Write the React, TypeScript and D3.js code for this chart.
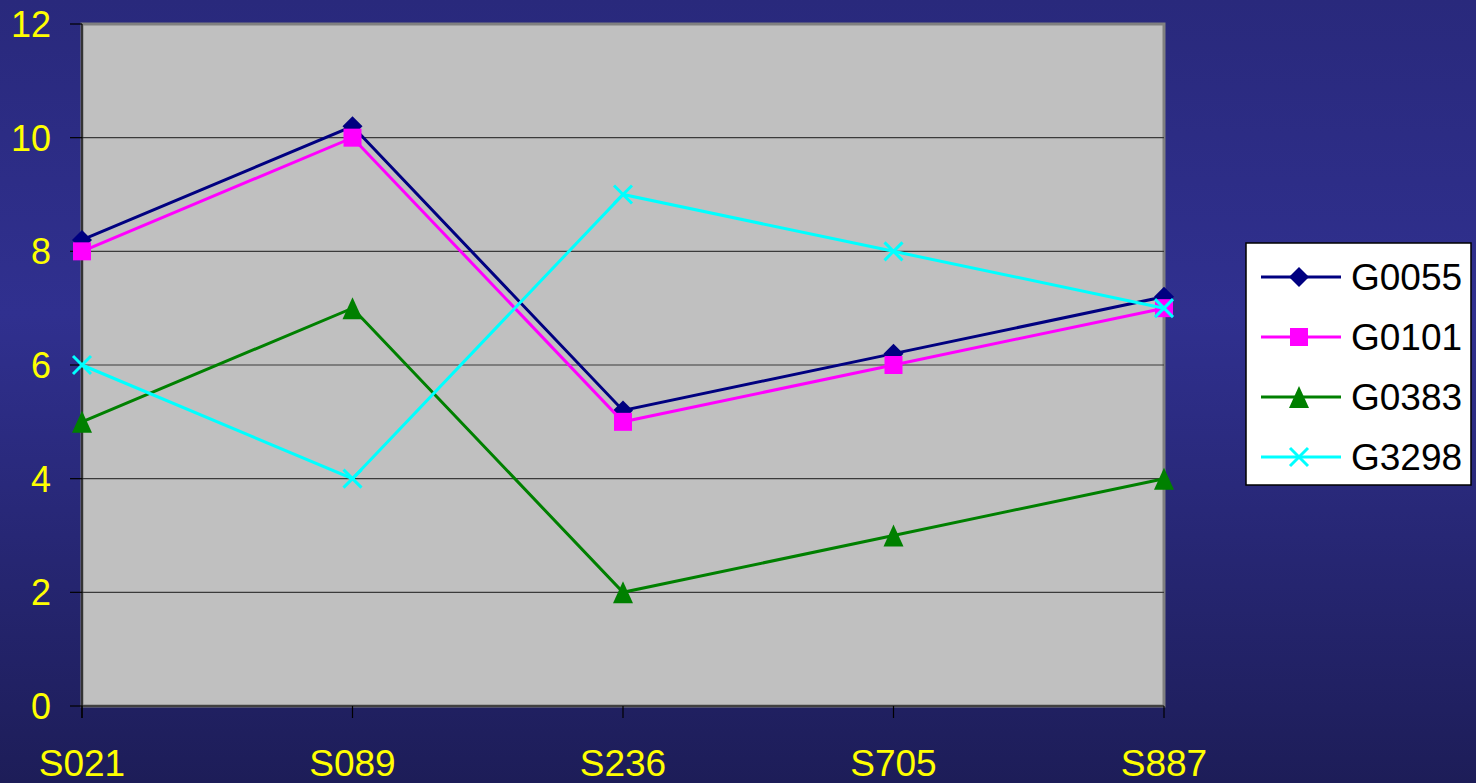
import React from "react";
import * as d3 from "d3";

const categories = ["S021", "S089", "S236", "S705", "S887"];
const seriesNames = ["G0055", "G0101", "G0383", "G3298"];
const g0055 = [8.2, 10.2, 5.2, 6.2, 7.2];
const g0101 = [8, 10, 5, 6, 7];
const g0383 = [5, 7, 2, 3, 4];
const g3298 = [6, 4, 9, 8, 7];
const yTicks = [0, 2, 4, 6, 8, 10, 12];

const colors = ["#000080", "#FF00FF", "#008000", "#00FFFF"];
const shapes = ["diamond", "square", "triangle", "x"];
const seriesValues = [g0055, g0101, g0383, g3298];

const W = 1476;
const H = 783;
const left = 82, right = 1164, top = 24, bottom = 706;

function Marker({ shape, color, x, y }: { shape: string; color: string; x: number; y: number }) {
  if (shape === "diamond") {
    const r = 10;
    return <path d={`M${x},${y - r}L${x + r},${y}L${x},${y + r}L${x - r},${y}Z`} fill={color} />;
  }
  if (shape === "square") {
    const s = 9;
    return <rect x={x - s} y={y - s} width={2 * s} height={2 * s} fill={color} />;
  }
  if (shape === "triangle") {
    return <path d={`M${x},${y - 11}L${x + 10},${y + 11}L${x - 10},${y + 11}Z`} fill={color} />;
  }
  const s = 9;
  return (
    <path d={`M${x - s},${y - s}L${x + s},${y + s}M${x - s},${y + s}L${x + s},${y - s}`} stroke={color} strokeWidth={3} fill="none" />
  );
}

export default function App() {
  const x = d3.scalePoint<string>().domain(categories).range([left, right]);
  const y = d3.scaleLinear().domain([0, 12]).range([bottom, top]);
  const line = d3
    .line<number>()
    .x((_, i) => x(categories[i]) as number)
    .y((d) => y(d));
  const font = "Arial, 'Liberation Sans', sans-serif";

  return (
    <svg width={W} height={H} style={{ position: "absolute", left: 0, top: 0, display: "block" }}>
      <defs>
        <linearGradient id="bg" x1="0" y1="0" x2="0" y2="1">
          <stop offset="0" stopColor="#29297C" />
          <stop offset="0.4" stopColor="#30308F" />
          <stop offset="1" stopColor="#1D1D58" />
        </linearGradient>
      </defs>
      <rect x={0} y={0} width={W} height={H} fill="url(#bg)" />
      <rect x={left} y={top} width={right - left} height={bottom - top} fill="#C0C0C0" stroke="#808080" strokeWidth={3} />
      {yTicks.filter((t) => t > 0 && t < 12).map((t) => (
        <line key={t} x1={left} x2={right} y1={y(t)} y2={y(t)} stroke="#3a3a3a" strokeWidth={1.2} />
      ))}
      <line x1={left} x2={left} y1={top} y2={bottom + 12} stroke="#000" strokeWidth={1.2} />
      <line x1={left} x2={right} y1={bottom} y2={bottom} stroke="#000" strokeWidth={1.2} />
      {yTicks.map((t) => (
        <g key={t}>
          <line x1={left - 12} x2={left} y1={y(t)} y2={y(t)} stroke="#000" strokeWidth={1.2} />
          <text x={51} y={y(t)} dy="0.36em" textAnchor="end" fill="#FFFF00" fontSize={36} fontFamily={font}>
            {t}
          </text>
        </g>
      ))}
      {categories.map((c) => (
        <g key={c}>
          <line x1={x(c)} x2={x(c)} y1={bottom} y2={bottom + 12} stroke="#000" strokeWidth={1.2} />
          <text x={x(c)} y={776} textAnchor="middle" fill="#FFFF00" fontSize={37} fontFamily={font}>
            {c}
          </text>
        </g>
      ))}
      {seriesValues.map((vals, si) => (
        <g key={seriesNames[si]}>
          <path d={line(vals) || ""} fill="none" stroke={colors[si]} strokeWidth={3} />
          {vals.map((v, i) => (
            <Marker key={i} shape={shapes[si]} color={colors[si]} x={x(categories[i]) as number} y={y(v)} />
          ))}
        </g>
      ))}
      <rect x={1246} y={243} width={225} height={242} fill="#FFFFFF" stroke="#000" strokeWidth={1.5} />
      {seriesNames.map((n, i) => {
        const ly = 277 + i * 60;
        return (
          <g key={n}>
            <line x1={1261} x2={1341} y1={ly} y2={ly} stroke={colors[i]} strokeWidth={3} />
            <Marker shape={shapes[i]} color={colors[i]} x={1299} y={ly} />
            <text x={1351} y={ly} dy="0.36em" fill="#000" fontSize={37} fontFamily={font}>
              {n}
            </text>
          </g>
        );
      })}
    </svg>
  );
}
